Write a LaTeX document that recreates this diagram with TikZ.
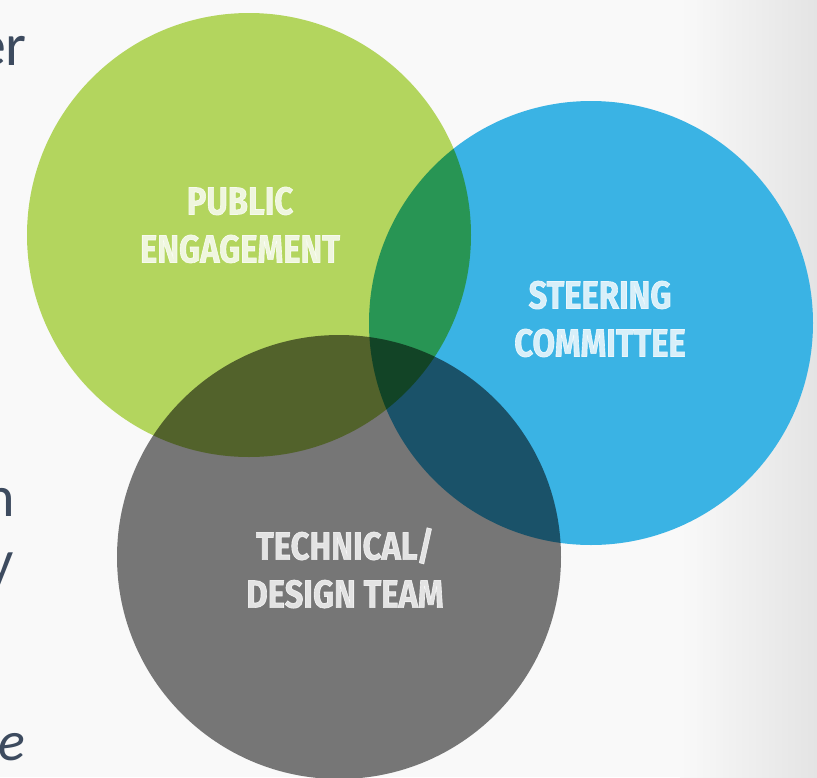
\documentclass[tikz,border=0pt]{standalone}
\usepackage{fontspec}
\setmainfont{Carlito}
\newfontfamily\labelfont[FakeStretch=0.84,FakeBold=1.6]{Fira Sans}
\usetikzlibrary{positioning}
\definecolor{bgpage}{HTML}{F9F9F9}
\definecolor{bgedge}{HTML}{E4E4E4}
\definecolor{pegreen}{HTML}{B3D55E}
\definecolor{scblue}{HTML}{3AB3E4}
\definecolor{tdgray}{HTML}{767676}
\definecolor{slate}{HTML}{3D4B5F}
\tikzset{
  venn/.style={inner sep=0pt},
  vennlabel/.style={
    align=center, inner sep=0pt,
    text=white, text opacity=0.8,
    font=\labelfont\bfseries\fontsize{39}{48}\selectfont
  },
  cuttext/.style={
    anchor=base east, inner sep=0pt, text=slate,
    font=\fontsize{60}{70}\selectfont
  }
}

\begin{document}
\begin{tikzpicture}[x=1pt,y=-1pt]
    \useasboundingbox (0,0) rectangle (817,777);
    \fill[bgpage] (0,0) rectangle (817,777);
    \shade[left color=bgpage,right color=bgedge] (680,0) rectangle (817,777);
    % text of the slide, cut by the picture edge
    \node (er) [cuttext] at (27,65) {er};
    \node (n) [cuttext,font=\fontsize{58}{70}\selectfont] at (15,516) {n};
    \node (y) [cuttext,font=\fontsize{58}{70}\selectfont] at (14,580) {y};
    \node (re) [cuttext,font=\itshape\fontsize{56}{70}\selectfont] at (25,760) {re};
    % the three circles
    \coordinate (pe) at (249,235);
    \coordinate (sc) at (591,323);
    \coordinate (td) at (339,557);
    \begin{scope}[blend group=multiply]
      \fill[pegreen] (pe) circle (222);
      \fill[scblue] (sc) circle (222);
      \fill[tdgray] (td) circle (222);
    \end{scope}
    \node (public) [vennlabel] at (240,225) {PUBLIC\\ENGAGEMENT};
    \node (steering) [vennlabel] at (600,319) {STEERING\\COMMITTEE};
    \node (technical) [vennlabel] at (345,568) {TECHNICAL/\\DESIGN TEAM};
\end{tikzpicture}
\end{document}
